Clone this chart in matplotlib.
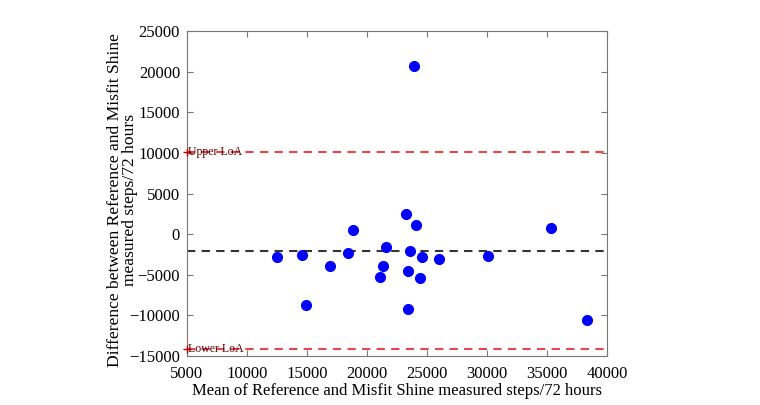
import matplotlib
matplotlib.use("Agg")
import matplotlib.pyplot as plt

mean_steps = [12527, 14583, 14917, 16917, 18444, 18861, 21083, 21361, 21583,
              23278, 23944, 24083, 23444, 23417, 23583, 24583, 24417, 26028,
              30111, 35306, 38278]
diff_steps = [-2850, -2570, -8720, -3960, -2280, 540, -5280, -3880, -1630,
              2490, 20730, 1120, -4500, -9210, -2040, -2780, -5360, -3060,
              -2690, 720, -10600]
bias = -2100
upper_loa = 10100
lower_loa = -14200
x_ticks = [5000, 10000, 15000, 20000, 25000, 30000, 35000, 40000]
y_ticks = [-15000, -10000, -5000, 0, 5000, 10000, 15000, 20000, 25000]
ylabel_lines = ['Difference between Reference and Misfit Shine', 'measured steps/72 hours']

plt.rcParams['font.family'] = ['Liberation Serif', 'DejaVu Serif']

fig = plt.figure(figsize=(7.6, 4.05), dpi=100)
ax = fig.add_axes([0.246, 0.121, 0.553, 0.802])

ax.plot(mean_steps, diff_steps, 'o', color='#0000ff', markersize=7, zorder=3)
ax.axhline(bias, color='#333333', linestyle=(0, (4, 3)), linewidth=1.5, zorder=2)
ax.axhline(upper_loa, color='#e8474a', linestyle=(0, (4, 3)), linewidth=1.5, zorder=2)
ax.axhline(lower_loa, color='#e8474a', linestyle=(0, (4, 3)), linewidth=1.5, zorder=2)

for val, lab in [(upper_loa, 'Upper LoA'), (lower_loa, 'Lower LoA')]:
    ax.plot([x_ticks[0]], [val], '+', color='#cc0000', markersize=6, zorder=4, clip_on=False)
    ax.text(x_ticks[0] + 100, val, lab, color='#5a0000', fontsize=8.5, va='center', ha='left', zorder=4)

ax.set_xlim(5000, 40000)
ax.set_ylim(-15000, 25000)
ax.set_xticks(x_ticks)
ax.set_yticks(y_ticks)
ax.tick_params(direction='in', top=True, right=True, labelsize=12, length=4, color='#777777')
ax.tick_params(axis='x', pad=7)
ax.tick_params(axis='y', pad=5)
for s in ax.spines.values():
    s.set_color('#777777')
    s.set_linewidth(0.8)

ax.set_xlabel('Mean of Reference and Misfit Shine measured steps/72 hours', fontsize=12, labelpad=1)
for xpos, line in zip([-0.172, -0.135], ylabel_lines):
    ax.text(xpos, 0.48, line, transform=ax.transAxes, rotation=90,
            ha='center', va='center', fontsize=12.6)

fig.savefig('out.png', dpi=100)
